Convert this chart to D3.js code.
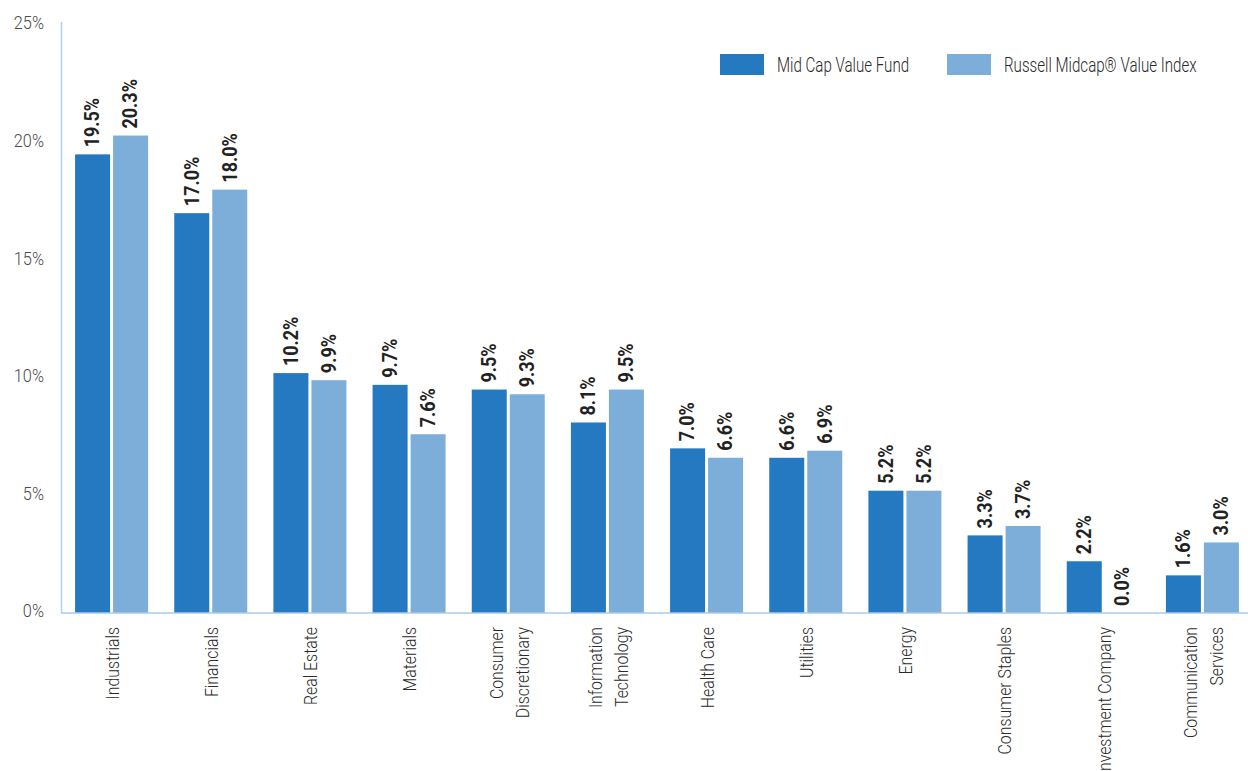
<!DOCTYPE html>
<html>
<head>
<meta charset="utf-8">
<script src="https://cdn.jsdelivr.net/npm/d3@7"></script>
<style>
  html, body { margin: 0; padding: 0; background: #fff; }
  svg { display: block; }
  text { font-family: Roboto, "Liberation Sans", sans-serif; }
</style>
</head>
<body>
<svg id="chart" width="1248" height="771"></svg>
<script>
// Sector allocation, percent of portfolio
const categories = [
  ["Industrials"], ["Financials"], ["Real Estate"], ["Materials"],
  ["Consumer", "Discretionary"], ["Information", "Technology"], ["Health Care"],
  ["Utilities"], ["Energy"], ["Consumer Staples"], ["Investment Company"],
  ["Communication", "Services"]
];
const fundValues  = [19.5, 17.0, 10.2, 9.7, 9.5, 8.1, 7.0, 6.6, 5.2, 3.3, 2.2, 1.6];
const indexValues = [20.3, 18.0, 9.9, 7.6, 9.3, 9.5, 6.6, 6.9, 5.2, 3.7, 0.0, 3.0];
const seriesNames = ["Mid Cap Value Fund", "Russell Midcap\u00AE Value Index"];
const yTicks = [0, 5, 10, 15, 20, 25];

const colors = ["#2479c1", "#7daed9"];
const svg = d3.select("#chart");

const x = d3.scaleBand()
  .domain(d3.range(categories.length))
  .range([62, 1252]);

const y = d3.scaleLinear().domain([0, 25]).range([613, 25]);

const barW = 35, gap = 3;
const groupW = barW * 2 + gap;

// condensed look: squeeze glyphs along the text direction
const squeezeTick = 0.86, squeezeCat = 0.88, squeezeVal = 0.9, squeezeLegend = 0.72;

// y axis line
svg.append("line")
  .attr("x1", 61.5).attr("x2", 61.5)
  .attr("y1", 22).attr("y2", y(0))
  .attr("stroke", "#b3d0ea").attr("stroke-width", 1.5);

// y tick labels
svg.append("g").selectAll("text")
  .data(yTicks).join("text")
  .attr("transform", d => `translate(44,${y(d) - 2}) scale(${squeezeTick},1)`)
  .attr("dominant-baseline", "central")
  .attr("text-anchor", "end")
  .attr("font-size", 19)
  .attr("font-weight", 300)
  .attr("fill", "#4a4a4a")
  .text(d => d + "%");

// bars
const groups = svg.append("g").selectAll("g")
  .data(categories.map((c, i) => ({ i, vals: [fundValues[i], indexValues[i]] })))
  .join("g")
  .attr("transform", d => `translate(${x(d.i) + (x.bandwidth() - groupW) / 2},0)`);

groups.selectAll("rect")
  .data(d => d.vals)
  .join("rect")
  .attr("x", (v, j) => j * (barW + gap))
  .attr("y", v => y(v))
  .attr("width", barW)
  .attr("height", v => y(0) - y(v))
  .attr("fill", (v, j) => colors[j]);

// value labels
groups.selectAll("text.val")
  .data(d => d.vals)
  .join("text")
  .attr("class", "val")
  .attr("transform", (v, j) => `translate(${j * (barW + gap) + barW / 2},${y(v) - 7}) rotate(-90) scale(${squeezeVal},1)`)
  .attr("dominant-baseline", "central")
  .attr("font-size", 20)
  .attr("font-weight", "bold")
  .attr("fill", "#222")
  .text(v => v.toFixed(1) + "%");

// baseline
svg.append("line")
  .attr("x1", 61).attr("x2", 1248)
  .attr("y1", y(0)).attr("y2", y(0))
  .attr("stroke", "#a9cbea").attr("stroke-width", 1.5);

// category labels
const lineGap = 26;
svg.append("g").selectAll("text")
  .data(categories)
  .join("text")
  .attr("transform", (c, i) => `translate(${x(i) + x.bandwidth() / 2 + 1},627) rotate(-90) scale(${squeezeCat},1)`)
  .attr("text-anchor", "end")
  .attr("font-size", 18)
  .attr("font-weight", 300)
  .attr("fill", "#2a2a2a")
  .each(function (lines) {
    const t = d3.select(this);
    const start = -(lines.length - 1) * lineGap / 2;
    lines.forEach((ln, k) => {
      t.append("tspan")
        .attr("x", 0)
        .attr("y", start + k * lineGap)
        .attr("dominant-baseline", "central")
        .text(ln);
    });
  });

// legend
const legendX = [720, 947];
const legend = svg.append("g").selectAll("g")
  .data(seriesNames)
  .join("g")
  .attr("transform", (d, i) => `translate(${legendX[i]},54)`);
legend.append("rect")
  .attr("width", 44).attr("height", 21)
  .attr("fill", (d, i) => colors[i]);
legend.append("text")
  .attr("transform", `translate(57,11) scale(${squeezeLegend},1)`)
  .attr("dominant-baseline", "central")
  .attr("font-size", 21)
  .attr("font-weight", 300)
  .attr("fill", "#2a2a2a")
  .text(d => d);
</script>
</body>
</html>
